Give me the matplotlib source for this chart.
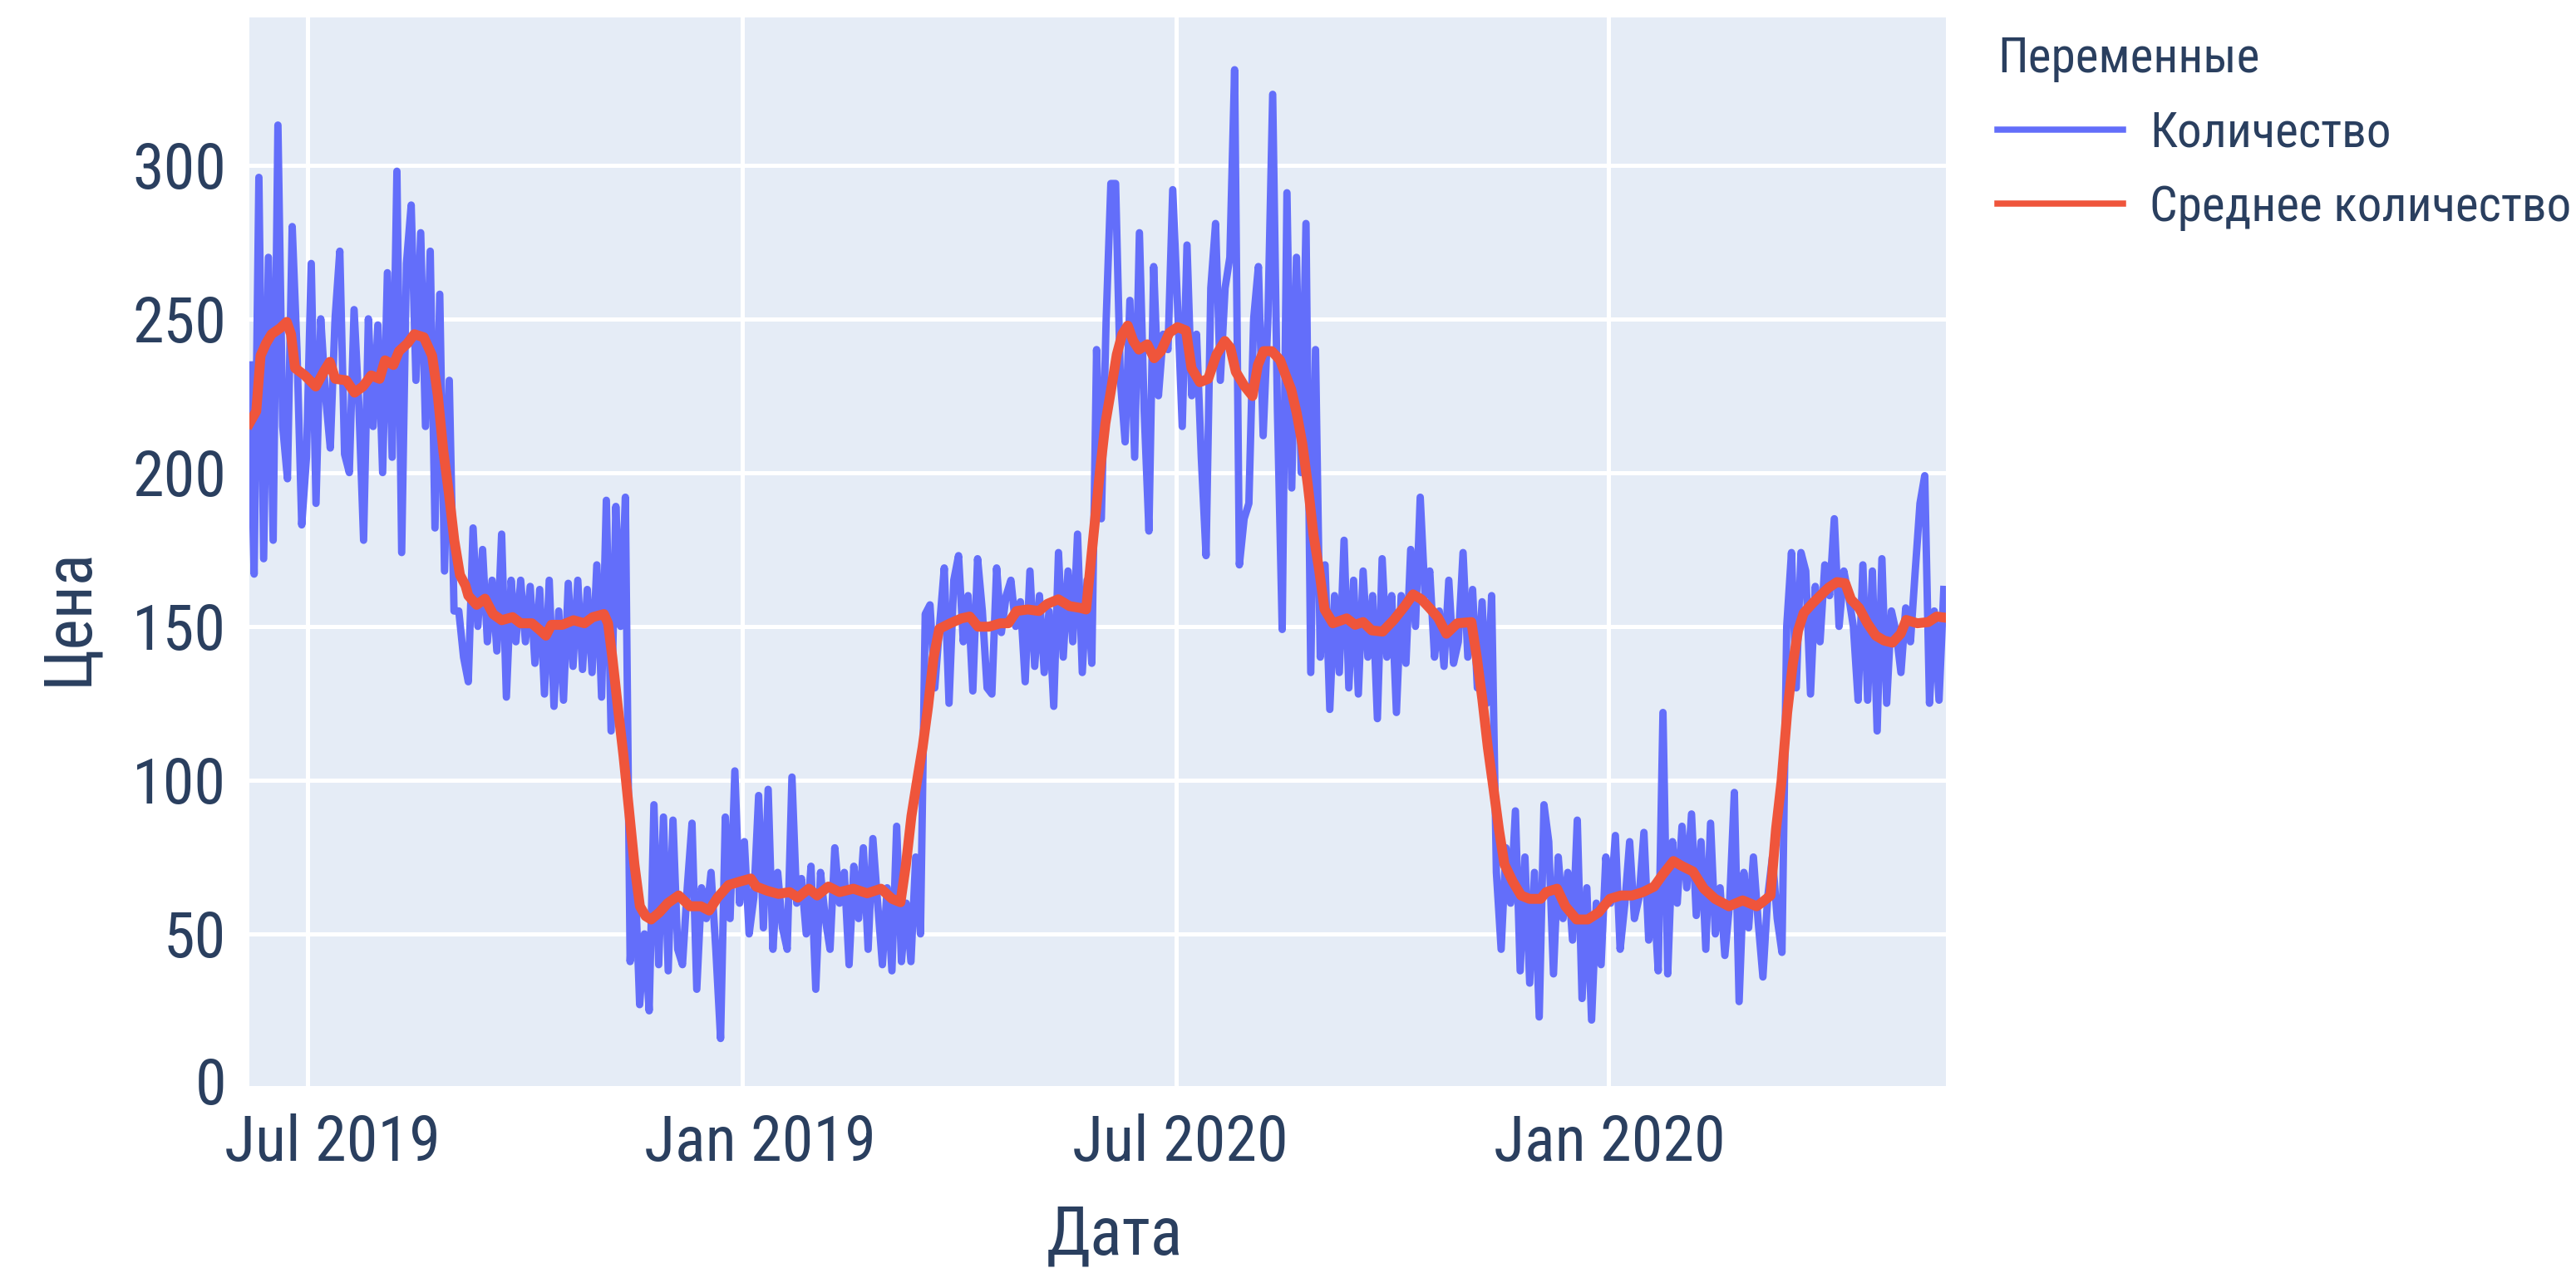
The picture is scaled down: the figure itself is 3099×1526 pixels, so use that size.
import numpy as np
import matplotlib.pyplot as plt
from matplotlib import font_manager
from matplotlib.lines import Line2D
from matplotlib.transforms import ScaledTranslation

# Количество, one reading every 2 days (day 0 .. 712)
qty = [235, 167, 296, 172, 270, 178, 313, 215, 198, 280, 240, 183, 205, 268, 190, 250, 225, 208, 250, 272,
       206, 200, 253, 222, 178, 250, 215, 248, 200, 265, 205, 298, 174, 268, 287, 230, 278, 215, 272, 182,
       258, 168, 230, 155, 155, 140,
       132, 182, 150, 175, 145, 165, 142, 180, 127, 165, 145, 165, 145, 163, 138, 162, 128, 165, 124, 155,
       126, 164, 137, 165, 136, 162, 135, 170, 127, 191, 116, 189, 150, 192, 41, 70, 27, 50, 25, 92,
       40, 88, 38, 87, 45,
       40, 65, 86, 32, 65, 55, 70, 45, 16, 88, 55, 103, 60, 80, 50, 62, 95, 52, 97, 45,
       70, 52, 45, 101, 60, 68, 50, 72, 32, 70, 55, 45, 78, 60, 70, 40, 72, 55, 78, 45,
       81, 60, 40, 65, 38,
       85, 41, 60, 41, 75, 50, 154, 157, 130, 150, 169, 125, 165, 173, 145, 160, 129, 172, 155, 130,
       128, 169, 148, 160, 165, 150, 158, 132, 168, 137, 160, 135, 155, 124, 174, 140, 168, 145, 180, 135,
       165, 138, 240, 185, 249, 294,
       294, 230, 210, 256, 205, 278, 220, 181, 267, 225, 245, 240, 292, 255, 215, 274, 225, 245, 205, 173,
       260, 281, 230, 260, 270, 331, 170, 185, 190, 250, 267, 212, 250, 323, 220, 149, 291, 195, 270, 200,
       281, 135, 240, 140, 170,
       123, 160, 135, 178, 130, 165, 128, 168, 140, 160, 120, 172, 140, 160, 122, 160, 138, 175, 150, 192,
       160, 168, 140, 155, 137, 165, 138, 145, 174, 140, 162, 130, 158, 125, 160, 70, 45, 78, 60, 90,
       38, 75, 34, 70, 23, 92,
       80, 37, 75, 55, 70, 48, 87, 29, 65, 22, 60, 40, 75, 60, 82, 45, 60, 80, 55, 62,
       83, 48, 65, 38, 122, 37, 80, 60, 85, 65, 89, 56, 80, 45, 86, 50, 65, 43, 60, 96,
       28, 70, 52, 75, 54,
       36, 62, 75, 55, 44, 150, 174, 130, 174, 168, 128, 163, 145, 170, 160, 185, 150, 168, 160, 150,
       126, 170, 126, 168, 116, 172, 125, 155, 148, 135, 156, 145, 168, 190, 199, 125, 155, 126, 162]

# Среднее количество (day, value)
avg_day = [0, 2.9, 4.7, 7, 9.3, 13, 15.7, 17.5, 19.2, 23.3, 27.9, 31.4, 33.8, 36.1, 40.7, 44.2, 47.7, 51.2,
           54.7, 57, 60.5, 62.9, 66.4, 69.3, 73.3, 76.8, 79.2, 81.5, 83.8, 86.1, 88.5, 90.8,
           92, 95.5, 99, 102.4, 106, 110.6, 114, 118.7, 122.2, 124.6, 126.9, 131.5, 136.2, 140.8, 144.3, 149,
           150.7, 152.5, 154.8, 157.2, 159.5, 161.8, 164.1, 166.5, 168.8, 172.3, 175.8, 180.4,
           185.1, 189.7, 193.2, 196.7, 201.4, 206, 210.7, 213, 217.7, 222.3, 227, 230.5, 235.1, 238.6, 243.3,
           248, 253.8, 259.6, 265.4, 270.1, 273.6, 275.9, 278.2, 280.5, 282.9, 285.2, 287.5, 289.9, 294.5,
           299.2, 302.7, 306.2, 310.8, 315.5, 318.9, 322.4, 327.1, 331.8, 335.3, 339.9, 344.6, 349.2, 351.6,
           353.9, 357.4, 359.7, 362.1, 364.5, 366.8, 369.1, 371.4, 373.8, 377.3, 380.2, 383.1, 386.6, 390,
           393.6, 395.9, 399.4, 402.9, 406.4, 409.9, 412.2, 414.5, 418, 421.5, 423.8, 426.2, 429.6, 433.1,
           435.5, 437.8, 440.1, 442.5, 444.8, 447.1, 449.4, 451.8, 455.3, 461.1, 464.6, 468, 471.6, 476.2,
           480.9, 485.5, 489, 492.5, 496, 499.5, 503, 507.6, 513.5, 515.8, 518.1, 520.4, 522.8, 525.1, 527.4,
           530.9, 534.4, 537.9, 542.6, 544.9, 549.5, 553, 557.7, 562.4, 567, 571.7, 576.3, 581, 585.6, 590.3,
           593.8, 598.4, 601.9, 606.6, 611.2, 615.9, 621.7, 627.5, 633.4, 635.7, 639.2, 641.5, 643.8, 646.2,
           648.5, 650.8, 653.1, 656.6, 660.1, 663.6, 667.1, 670.6, 673, 676.4, 679.9, 683.4, 686.9, 690.4,
           693.9, 696.2, 700.9, 705.5, 709, 712.9]
avg_val = [216, 220, 238, 242, 245, 247, 249, 245, 234, 231.6, 228, 233, 236, 230.5, 230, 226, 228, 231.6,
           230.5, 236.5, 235, 239.5, 242, 245, 244, 238, 225, 207, 193.5, 178, 166.7, 163.3,
           160, 157, 159, 154, 152, 153, 151, 151, 148.7, 147, 150.5, 150.5, 152, 151, 153, 154,
           151, 140, 124, 108, 90.5, 72.6, 59, 55.8, 54.7, 57, 60, 62.5,
           59, 59, 57.6, 61.8, 65.9, 67, 68, 65.4, 64, 63, 63.6, 61.8, 64.7, 62.5, 65.4,
           63.6, 64.7, 63.2, 64.7, 61.4, 60.3, 72.6, 88.3, 99.5, 110.7, 124, 139.8, 149.2, 151,
           152.6, 153.2, 149.9, 149.9, 151, 151, 155, 155.5, 155, 157.3, 158.8, 156.6, 156, 155.5,
           173.4, 200.3, 216, 227, 238.4, 245, 247.8, 242.8, 240, 241.7, 237.2, 239.5, 245.5, 247.3,
           246.2, 233.9, 229.4, 230.5, 238.4, 242.8, 240.6, 232.8, 228.3, 224.9, 235, 239.5, 239.5, 236.6,
           231.6, 227, 219.3, 209.2, 195.8, 180, 169, 155.5, 151, 152.6, 150.5, 151.4, 148.7, 148.3,
           152.1, 156.6, 160.4, 158.8, 155.9, 152.8, 147.6, 151, 151.4, 139.8, 126.3, 110.7, 97.2, 83.8, 72.6,
           67, 62.5, 61.4, 61.4, 63.6, 64.7, 59, 54.7, 54.7, 57, 61.4, 62.5, 62.5, 63.6, 65.4,
           69.2, 73.7, 72.1, 70.3, 64.7, 61.4, 59, 60.9, 59, 60.3, 62.5, 84, 99.5, 122,
           137.5, 148.7, 154.3, 157.3, 160, 162.6, 164.4, 164, 158.8, 156, 151, 147, 145.4, 144.7,
           147.6, 152.1, 151, 151.4, 153.2, 152.8]

grid_days = [24.6, 207.1, 389.4, 571.1]
tick_days = [35.0, 214.5, 391.0, 571.4]
tick_labels = ['Jul 2019', 'Jan 2019', 'Jul 2020', 'Jan 2020']
y_ticks = [0, 50, 100, 150, 200, 250, 300]

# narrow sans if there is one, the reference text is condensed
fonts = font_manager.fontManager.ttflist
names = {f.name for f in fonts}
family, stretch, scale = 'Liberation Sans', 'normal', 0.9
for nm in ['Liberation Sans Narrow', 'Arial Narrow', 'Roboto Condensed', 'Open Sans Condensed',
           'Noto Sans Condensed', 'DejaVu Sans Condensed']:
    if nm in names:
        family, scale = nm, 1.0
        break
else:
    for nm in ['Noto Sans', 'Open Sans', 'Roboto', 'DejaVu Sans']:
        if any(f.name == nm and 'condensed' in str(f.stretch) for f in fonts):
            family, stretch, scale = nm, 'condensed', 1.0
            break
plt.rcParams['font.family'] = [family, 'DejaVu Sans']
plt.rcParams['font.stretch'] = stretch

txt = '#2a3f5f'
days = np.arange(len(qty)) * 2

fig = plt.figure(figsize=(15.495, 7.63), dpi=200)
ax = fig.add_axes([300 / 3099, 1 - 1309 / 1526, 2041 / 3099, 1288 / 1526])
ax.set_facecolor('#E5ECF6')
for d in grid_days:
    ax.axvline(d, color='white', lw=1.8, zorder=0.5)
ax.set_yticks(y_ticks)
ax.grid(axis='y', color='white', lw=1.8)
ax.set_axisbelow(True)

ax.plot(days, qty, color='#636EFA', lw=3.2, zorder=2)
ax.plot(avg_day, avg_val, color='#EF553B', lw=4.3, zorder=3)

ax.set_xlim(0, 712.9)
ax.set_ylim(0, 348)
ax.set_xticks(tick_days, tick_labels)
ax.tick_params(axis='both', length=0, labelsize=27.5 * scale, labelcolor=txt)
ax.tick_params(axis='x', pad=11)
ax.tick_params(axis='y', pad=10)
for s in ax.spines.values():
    s.set_visible(False)

ax.set_xlabel('Дата', fontsize=29 * scale, color=txt)
ax.xaxis.set_label_coords(0.51, -0.108)
ax.set_ylabel('Цена', fontsize=28.5 * scale, color=txt)
ax.yaxis.set_label_coords(-0.088, 0.44)

handles = [Line2D([], [], color='#636EFA', lw=2.7), Line2D([], [], color='#EF553B', lw=2.7)]
leg = fig.legend(handles, ['Количество', 'Среднее количество'], title='Переменные',
                 loc='upper left', bbox_to_anchor=(2403 / 3099, 1 - 42 / 1526), frameon=False,
                 fontsize=21.3 * scale, title_fontsize=21.3 * scale, alignment='left', borderpad=0,
                 borderaxespad=0, handlelength=2.55, handletextpad=0.55, labelspacing=0.55,
                 labelcolor=txt)
leg.get_title().set_color(txt)

# lift the "0" label a little so it clears the date labels, as in the original
zero = ax.yaxis.get_major_ticks()[0].label1
zero.set_transform(zero.get_transform() + ScaledTranslation(0, 9 / 200, fig.dpi_scale_trans))

fig.savefig('out.png', dpi=200)
